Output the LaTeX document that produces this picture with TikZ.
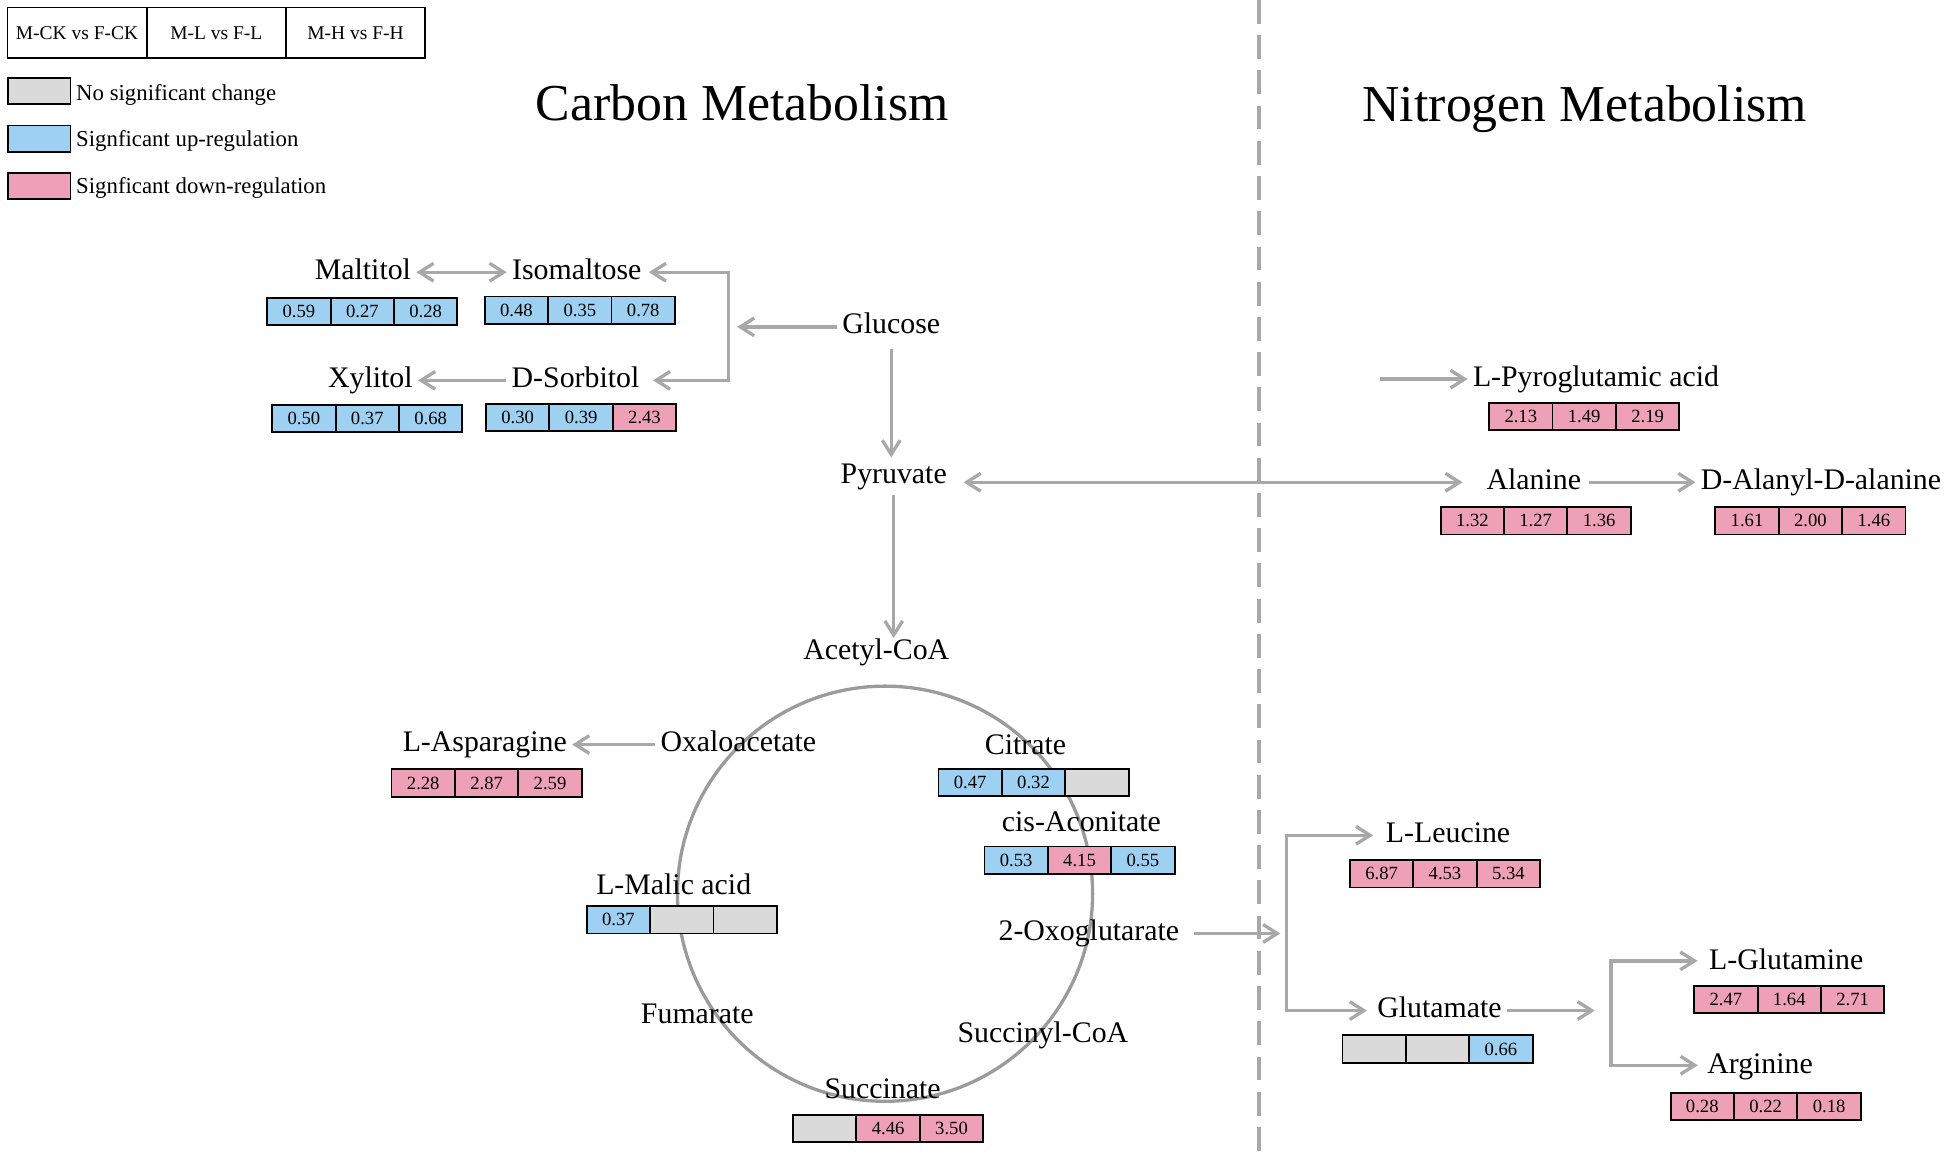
\documentclass[tikz,border=0pt]{standalone}
\usepackage{fontspec}
\setmainfont{Liberation Serif}
\usetikzlibrary{arrows.meta}
\definecolor{upblue}{RGB}{157,208,241}
\definecolor{downpink}{RGB}{237,160,182}
\definecolor{ncgray}{RGB}{218,218,218}
\definecolor{linegray}{RGB}{168,168,168}
\definecolor{circgray}{RGB}{155,155,155}
\newcommand\valbox[8]{%
  \node[#3,anchor=west] (#1a) at (#2) {#4};
  \node[#5,anchor=west] (#1b) at (#1a.east) {#6};
  \node[#7,anchor=west] (#1c) at (#1b.east) {#8};}
\tikzset{
  lab/.style={font=\fontsize{14.4pt}{16pt}\selectfont, inner sep=2.4pt, text height=0.68em, text depth=0pt},
  ttl/.style={font=\fontsize{25pt}{28pt}\selectfont, inner sep=0pt, text height=0.68em, text depth=0pt},
  cell/.style={draw=black, line width=0.9pt, minimum width=30.6pt, minimum height=13.2pt, inner sep=0pt, outer sep=0pt, font=\fontsize{9pt}{10pt}\selectfont},
  up/.style={cell, fill=upblue},
  dn/.style={cell, fill=downpink},
  nc/.style={cell, fill=ncgray},
  hdr/.style={draw=black, line width=0.9pt, minimum width=67.2pt, minimum height=24.6pt, inner sep=0pt, outer sep=0pt, anchor=west, font=\fontsize{9.4pt}{11pt}\selectfont},
  legsq/.style={draw=black, line width=0.9pt, minimum width=30pt, minimum height=12.6pt, inner sep=0pt, anchor=west},
  legtxt/.style={font=\fontsize{11pt}{13pt}\selectfont, inner sep=0pt, anchor=west, text height=0.68em, text depth=0pt},
  arr/.style={draw=linegray, line width=1.6pt, -{Straight Barb[length=6.8pt,width=8.6pt]}},
  darr/.style={draw=linegray, line width=1.6pt, {Straight Barb[length=6.8pt,width=8.6pt]}-{Straight Barb[length=6.8pt,width=8.6pt]}},
}
\begin{document}
\begin{tikzpicture}[x=0.6pt,y=-0.6pt]
\useasboundingbox (0,0) rectangle (1568,931);
% TCA circle (behind)
\node[draw=circgray, line width=1.6pt, circle, minimum size=200.4pt, inner sep=0pt] (tca) at (712,719) {};
% dashed divider
\coordinate (divT) at (1013,0);
\coordinate (divB) at (1013,931);
\draw[draw=linegray, line width=1.7pt, dash pattern=on 11.5pt off 5.5pt] (divT) -- (divB);
% legend
\node[hdr] (h1) at (6,26.5) {M-CK vs F-CK};
\node[hdr] (h2) at (h1.east) {M-L vs F-L};
\node[hdr] (h3) at (h2.east) {M-H vs F-H};
\node[legsq, fill=ncgray] (lg1) at (6,73.5) {};
\node[legsq, fill=upblue] (lg2) at (6,111.5) {};
\node[legsq, fill=downpink] (lg3) at (6,149.5) {};
\node[legtxt] (lt1) at (61,75) {No significant change};
\node[legtxt] (lt2) at (61,112) {Signficant up-regulation};
\node[legtxt] (lt3) at (61,150) {Signficant down-regulation};
% titles
\node[ttl] (tc) at (597,91) {Carbon Metabolism};
\node[ttl] (tn) at (1275,92) {Nitrogen Metabolism};
% carbon labels
\node[lab] (maltitol) at (292,219) {Maltitol};
\node[lab] (isomaltose) at (464,219) {Isomaltose};
\node[lab] (glucose) at (717,263) {Glucose};
\node[lab] (xylitol) at (298,306) {Xylitol};
\node[lab] (sorbitol) at (463,306) {D-Sorbitol};
\node[lab] (pyruvate) at (719,383) {Pyruvate};
\node[lab] (acetyl) at (705,525) {Acetyl-CoA};
\node[lab] (oxalo) at (594,599) {Oxaloacetate};
\node[lab] (asparagine) at (390,599) {L-Asparagine};
\node[lab] (citrate) at (825,601) {Citrate};
\node[lab] (cisacon) at (870,663) {cis-Aconitate};
\node[lab] (malic) at (542,714) {L-Malic acid};
\node[lab] (oxoglut) at (876,751) {2-Oxoglutarate};
\node[lab] (fumarate) at (561,818) {Fumarate};
\node[lab] (succoa) at (839,833) {Succinyl-CoA};
\node[lab] (succinate) at (710,878) {Succinate};
% nitrogen labels
\node[lab] (pyroglu) at (1284,305) {L-Pyroglutamic acid};
\node[lab] (alanine) at (1234,388) {Alanine};
\node[lab] (dalanyl) at (1465,388) {D-Alanyl-D-alanine};
\node[lab] (leucine) at (1165,672) {L-Leucine};
\node[lab] (glutamate) at (1158,813) {Glutamate};
\node[lab] (glutamine) at (1437,774) {L-Glutamine};
\node[lab] (arginine) at (1416,858) {Arginine};
% value boxes
\valbox{mal}{215,250.5}{up}{0.59}{up}{0.27}{up}{0.28}
\valbox{iso}{390,249.5}{up}{0.48}{up}{0.35}{up}{0.78}
\valbox{xyl}{219,336.5}{up}{0.50}{up}{0.37}{up}{0.68}
\valbox{sor}{391,336}{up}{0.30}{up}{0.39}{dn}{2.43}
\valbox{asp}{315,630}{dn}{2.28}{dn}{2.87}{dn}{2.59}
\valbox{cit}{755,629.5}{up}{0.47}{up}{0.32}{nc}{}
\valbox{cis}{792,692}{up}{0.53}{dn}{4.15}{up}{0.55}
\valbox{mla}{472,740}{up}{0.37}{nc}{}{nc}{}
\valbox{suc}{638,908}{nc}{}{dn}{4.46}{dn}{3.50}
\valbox{pyr}{1198,335}{dn}{2.13}{dn}{1.49}{dn}{2.19}
\valbox{ala}{1159,419}{dn}{1.32}{dn}{1.27}{dn}{1.36}
\valbox{dal}{1380,419}{dn}{1.61}{dn}{2.00}{dn}{1.46}
\valbox{leu}{1086,703}{dn}{6.87}{dn}{4.53}{dn}{5.34}
\valbox{glu}{1080,844}{nc}{}{nc}{}{up}{0.66}
\valbox{gln}{1363,804}{dn}{2.47}{dn}{1.64}{dn}{2.71}
\valbox{arg}{1344,890}{dn}{0.28}{dn}{0.22}{dn}{0.18}
% coordinates
\coordinate (brkT) at (586,219);
\coordinate (brkB) at (586,306);
\coordinate (brkM) at (593,263);
\coordinate (pyroS) at (1110,305);
\coordinate (br2T) at (1035,672);
\coordinate (br2B) at (1035,813);
\coordinate (br2M) at (1030,751);
\coordinate (br3T) at (1296,773);
\coordinate (br3B) at (1296,857);
\coordinate (br3M) at (1283,813);
\coordinate (acN) at (pyruvate.south |- acetyl.north);
% connectors carbon
\draw[darr] (maltitol.east) -- (isomaltose.west);
\draw[darr, shorten <=1pt, shorten >=4pt] (isomaltose.east) -- (brkT) -- (brkB) -- (sorbitol.east);
\draw[arr] (glucose.west) -- (brkM);
\draw[arr] (sorbitol.west) -- (xylitol.east);
\draw[arr, shorten <=4.8pt, shorten >=3pt] (glucose.south) -- (glucose.south |- pyruvate.north);
\draw[darr, shorten <=5.5pt, shorten >=9pt] (pyruvate.east |- alanine.west) -- (alanine.west);
\draw[arr, shorten <=3pt, shorten >=1pt] (pyruvate.south) -- (acN);
\draw[arr] (oxalo.west) -- (asparagine.east);
\draw[arr, shorten <=4.5pt] (oxoglut.east) -- (br2M);
% connectors nitrogen
\draw[arr] (pyroS) -- (pyroglu.west);
\draw[arr, shorten <=1pt] (alanine.east) -- (dalanyl.west);
\draw[darr, shorten <=3.6pt, shorten >=2.4pt] (leucine.west) -- (br2T) -- (br2B) -- (glutamate.west);
\draw[arr] (glutamate.east) -- (br3M);
\draw[darr, shorten <=3pt, shorten >=2pt] (glutamine.west |- br3T) -- (br3T) -- (br3B) -- (arginine.west |- br3B);
\end{tikzpicture}
\end{document}
